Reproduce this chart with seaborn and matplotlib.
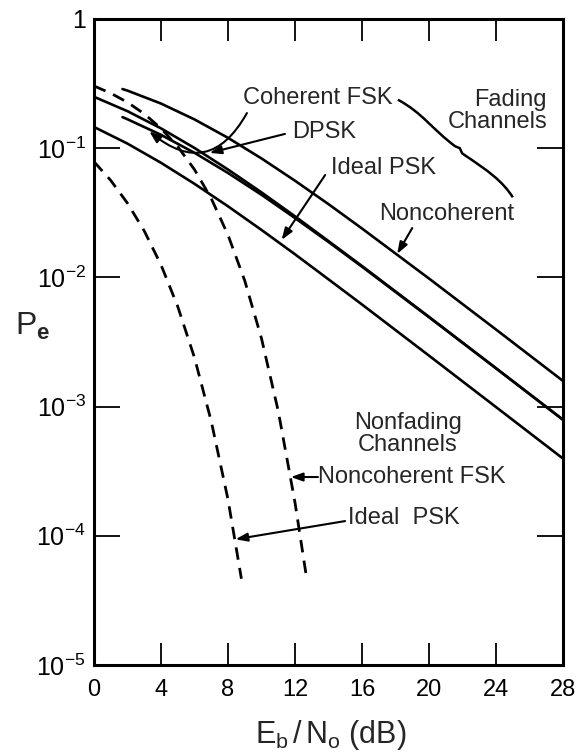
import matplotlib
matplotlib.use("Agg")
import matplotlib.pyplot as plt
import seaborn as sns
import pandas as pd
from matplotlib.path import Path
from matplotlib.patches import PathPatch

# ---- data ----
x_fade = [0, 2, 4, 6, 8, 10, 12, 14, 16, 20, 24, 28]
pe_fade_psk = [0.146, 0.1085, 0.0771, 0.0530, 0.0355, 0.0233, 0.0151, 0.00966, 0.00617, 0.00248, 0.000992, 0.000396]
pe_fade_dpsk = [0.25, 0.1934, 0.1424, 0.1004, 0.0684, 0.0455, 0.0297, 0.0191, 0.01225, 0.00495, 0.00198, 0.000791]
x_fade_fsk = [1.7, 2, 4, 6, 8, 10, 12, 14, 16, 20, 24, 28]
pe_fade_cfsk = [0.174, 0.1675, 0.1269, 0.0921, 0.0643, 0.0436, 0.0288, 0.0188, 0.0121, 0.00492, 0.00198, 0.000791]
pe_fade_ncfsk = [0.287, 0.279, 0.2216, 0.167, 0.1203, 0.0833, 0.056, 0.0369, 0.0239, 0.0098, 0.00395, 0.00158]
x_nf_psk = [0, 1, 2, 3, 4, 5, 6, 7, 8, 8.8]
pe_nf_psk = [0.0786, 0.0563, 0.0375, 0.0229, 0.0125, 0.00595, 0.00239, 0.00077, 0.000191, 0.0000465]
x_nf_fsk = [0, 1, 2, 3, 4, 5, 6, 7, 8, 9, 10, 11, 12, 12.7]
pe_nf_fsk = [0.303, 0.2665, 0.2264, 0.1844, 0.1424, 0.1029, 0.0683, 0.0408, 0.0213, 0.00943, 0.00337, 0.000923, 0.000181, 0.0000465]

x_ticks = [0, 4, 8, 12, 16, 20, 24, 28]
x_tick_labels = ["0", "4", "8", "12", "16", "20", "24", "28"]
y_ticks = [1e-5, 1e-4, 1e-3, 1e-2, 1e-1, 1]
y_tick_labels = [r"$\mathregular{10^{-5}}$", r"$\mathregular{10^{-4}}$", r"$\mathregular{10^{-3}}$",
                 r"$\mathregular{10^{-2}}$", r"$\mathregular{10^{-1}}$", "1"]

sns.set_style("ticks")
plt.rcParams['font.family'] = ['Liberation Sans', 'DejaVu Sans']
plt.rcParams['mathtext.fontset'] = 'custom'
plt.rcParams['mathtext.rm'] = 'Liberation Sans'
plt.rcParams['mathtext.it'] = 'Liberation Sans:italic'
plt.rcParams['mathtext.bf'] = 'Liberation Sans:bold'

fig = plt.figure(figsize=(5.78, 7.55), dpi=100)
ax = fig.add_axes([94 / 578, 1 - 665 / 755, (563 - 94) / 578, (665 - 19) / 755])

frames = [
    pd.DataFrame({"x": x_fade, "pe": pe_fade_psk, "s": "fade_psk"}),
    pd.DataFrame({"x": x_fade, "pe": pe_fade_dpsk, "s": "fade_dpsk"}),
    pd.DataFrame({"x": x_fade_fsk, "pe": pe_fade_cfsk, "s": "fade_cfsk"}),
    pd.DataFrame({"x": x_fade_fsk, "pe": pe_fade_ncfsk, "s": "fade_ncfsk"}),
]
for d in frames:
    sns.lineplot(data=d, x="x", y="pe", ax=ax, color="black", lw=1.9, sort=False, estimator=None)
for xs, ys in [(x_nf_psk, pe_nf_psk), (x_nf_fsk, pe_nf_fsk)]:
    sns.lineplot(x=xs, y=ys, ax=ax, color="black", lw=2.0, linestyle=(0, (4.5, 3.0)),
                 sort=False, estimator=None)

ax.set_yscale("log")
ax.set_xlim(0, 28)
ax.set_ylim(1e-5, 1)
ax.set_xticks(x_ticks)
ax.set_xticklabels(x_tick_labels, fontsize=17)
ax.set_yticks(y_ticks)
ax.set_yticklabels(y_tick_labels, fontsize=18)
ax.minorticks_off()
ax.tick_params(axis="x", direction="in", length=16, width=1.3, top=True, pad=10, colors="black")
ax.tick_params(axis="y", direction="in", length=19, width=1.3, right=True, pad=6, colors="black")
for s in ax.spines.values():
    s.set_linewidth(2.2)
    s.set_color("black")

ax.set_xlabel(r"$\mathregular{E_b\,/\,N_o}$ (dB)", fontsize=22)
ax.xaxis.set_label_coords(0.505, -0.082)
ax.set_ylabel(r"$\mathregular{P_{\mathbf{e}}}$", fontsize=23, rotation=0)
ax.yaxis.set_label_coords(-0.13, 0.5)

fs = 17
t = ax.transAxes
ax.text(0.318, 0.878, "Coherent FSK", transform=t, fontsize=fs, ha="left", va="center")
ax.text(0.422, 0.825, "DPSK", transform=t, fontsize=fs, ha="left", va="center")
ax.text(0.505, 0.769, "Ideal PSK", transform=t, fontsize=fs, ha="left", va="center")
ax.text(0.608, 0.698, "Noncoherent", transform=t, fontsize=fs, ha="left", va="center")
ax.text(0.966, 0.857, "Fading\nChannels", transform=t, fontsize=fs, ha="right", va="center",
        multialignment="right", linespacing=1.0)
ax.text(0.669, 0.358, "Nonfading\nChannels", transform=t, fontsize=fs, ha="center", va="center",
        multialignment="center", linespacing=1.0)
ax.text(0.478, 0.291, "Noncoherent FSK", transform=t, fontsize=fs, ha="left", va="center")
ax.text(0.542, 0.2276, "Ideal  PSK", transform=t, fontsize=fs, ha="left", va="center")

ap = dict(arrowstyle="-|>,head_length=0.7,head_width=0.25", color="black", lw=1.5,
          shrinkA=0, shrinkB=0)
ax.annotate("", xy=(3.3, 0.135), xytext=(9.13, 0.187),
            arrowprops=dict(ap, connectionstyle="arc3,rad=-0.6"))
ax.annotate("", xy=(6.9, 0.092), xytext=(11.4, 0.129), arrowprops=ap)
ax.annotate("", xy=(11.2, 0.0195), xytext=(13.8, 0.062), arrowprops=ap)
ax.annotate("", xy=(18.1, 0.0152), xytext=(19.0, 0.0241), arrowprops=ap)
ax.annotate("", xy=(11.75, 0.000285), xytext=(13.37, 0.000285), arrowprops=ap)
ax.annotate("", xy=(8.45, 0.000094), xytext=(14.99, 0.000130), arrowprops=ap)

# decorative brace grouping the fading curves
verts = [(0.648, 0.875), (0.700, 0.855), (0.720, 0.830), (0.770, 0.803),
         (0.780, 0.800), (0.785, 0.792), (0.791, 0.789),
         (0.840, 0.765), (0.870, 0.750), (0.893, 0.724)]
codes = [Path.MOVETO, Path.CURVE4, Path.CURVE4, Path.CURVE4,
         Path.LINETO, Path.LINETO, Path.LINETO,
         Path.CURVE4, Path.CURVE4, Path.CURVE4]
ax.add_patch(PathPatch(Path(verts, codes), transform=t, fill=False, lw=1.8, color="black",
                       clip_on=False))

fig.savefig("out.png", dpi=100)
